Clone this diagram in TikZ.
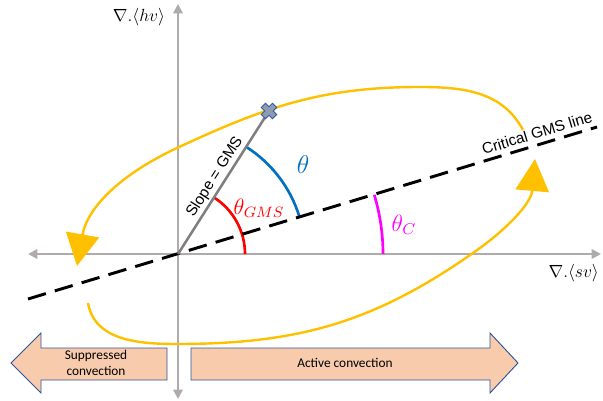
\documentclass[tikz,border=0pt]{standalone}
\usepackage{fontspec}
\setmainfont{Liberation Sans}
\newfontfamily\calib{Carlito}
\usetikzlibrary{arrows.meta}
\definecolor{axgray}{RGB}{175,171,171}
\definecolor{slopegray}{RGB}{127,127,127}
\definecolor{gold}{RGB}{255,192,0}
\definecolor{myblue}{RGB}{0,112,192}
\definecolor{mymagenta}{RGB}{255,0,255}
\definecolor{peach}{RGB}{248,203,173}
\definecolor{edgeblue}{RGB}{47,85,151}
\definecolor{crossfill}{RGB}{140,155,180}
\definecolor{crossedge}{RGB}{59,89,152}
\tikzset{
  axis/.style={axgray, line width=1.9pt, {Triangle[length=7pt,width=7pt]}-{Triangle[length=7pt,width=7pt]}},
  angarc/.style={line width=2pt},
  cycle arrow/.style={gold, line width=1.8pt, -{Triangle[length=24pt,width=25pt]}},
  band/.style={fill=peach, draw=edgeblue, line width=0.7pt},
  band text/.style={font=\calib\fontsize{10}{12}\selectfont, align=center, text=black},
  lab/.style={font=\fontsize{11.5}{13}\selectfont},
  mathlab/.style={font=\fontsize{12}{14}\selectfont, scale=1.4, transform shape},
  axlab/.style={font=\fontsize{12}{14}\selectfont, scale=1.1, transform shape},
}
\begin{document}
\begin{tikzpicture}[x=0.75pt,y=0.75pt]
\useasboundingbox (0,0) rectangle (603,400);
% coordinates
\coordinate (O) at (178,146);
\coordinate (vtop) at (178,396);
\coordinate (vbot) at (178,1);
\coordinate (hl) at (28,146);
\coordinate (hr) at (601,146);
\coordinate (dl) at (28,101);
\coordinate (dr) at (597,273);
\coordinate (X) at (269,289);
% bottom bands
\draw[band] (11,37) -- (41,67) -- (41,52) -- (167,52) -- (167,20) -- (41,20) -- (41,7) -- cycle;
\draw[band] (191,52) -- (490,52) -- (490,67) -- (518,37) -- (490,7) -- (490,20) -- (191,20) -- cycle;
\node[band text] (sup) at (96,37) {Suppressed\\convection};
\node[band text] (act) at (345,37) {Active convection};
% axes
\draw[axis] (vbot) -- (vtop);
\draw[axis] (hl) -- (hr);
\node[axlab] (ylab) at (139,383) {$\nabla.\langle hv\rangle$};
\node[axlab, anchor=east] (xlab) at (604,127) {$\nabla.\langle sv\rangle$};
% angle arcs
\draw[angarc, red] ([shift={(0:67)}]O) arc[start angle=0, end angle=57.5, radius=67];
\draw[angarc, myblue] ([shift={(16.8:127)}]O) arc[start angle=16.8, end angle=57.5, radius=127];
\draw[angarc, mymagenta] ([shift={(0:205)}]O) arc[start angle=0, end angle=16.8, radius=205];
% dashed critical line
\draw[black, line width=2.2pt, dash pattern=on 14pt off 7pt] (dl) -- (dr);
% slope line
\draw[slopegray, line width=1.9pt] (O) -- (X);
% yellow cycle
\draw[cycle arrow] (523,270) to[out=118,in=0] (420,313) to[out=180,in=25] (177,252) to[out=205,in=80] (77,134);
\draw[cycle arrow] (88,97) to[out=-80,in=180] (177,56) to[out=0,in=215] (473,147) to[out=35,in=265] (535,241);
% cross marker
\begin{scope}[shift={(X)}, rotate=45]
\draw[fill=crossfill, draw=crossedge, line width=0.7pt]
 (3,8) -- (3,3) -- (8,3) -- (8,-3) -- (3,-3) -- (3,-8) -- (-3,-8) -- (-3,-3) -- (-8,-3) -- (-8,3) -- (-3,3) -- (-3,8) -- cycle;
\end{scope}
% labels
\node[lab, rotate=57.5] (slope) at (215,223) {Slope = GMS};
\node[lab, rotate=16.8] (crit) at (537,267) {Critical GMS line};
\node[mathlab, red] (tgms) at (259,192) {$\theta_{GMS}$};
\node[mathlab, myblue, scale=1.15] (tb) at (303,235) {$\theta$};
\node[mathlab, mymagenta, scale=1.05] (tc) at (404,175) {$\theta_{C}$};
\end{tikzpicture}
\end{document}
